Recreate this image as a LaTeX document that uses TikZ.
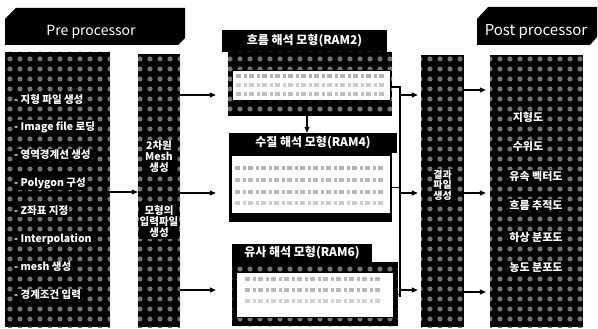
\documentclass[tikz,border=0pt]{standalone}
\usepackage{fontspec}
\setmainfont{Noto Sans CJK KR}
\usetikzlibrary{arrows.meta,patterns.meta}
\tikzdeclarepattern{
  name=speckle,
  type=uncolored,
  bounding box={(-5pt,-5pt) and (5pt,5pt)},
  tile size={(10pt,10pt)},
  code={\pgfpathcircle{\pgfpointorigin}{2.6pt}\pgfusepath{fill}}
}
\begin{document}
\begin{tikzpicture}[x=1pt,y=-1pt,
  darkbox/.style={draw=none, fill=black, postaction={pattern=speckle, pattern color=black!55}, inner sep=0pt},
  header/.style={fill=black, text=white, inner sep=0pt, font=\fontsize{12}{13}\selectfont\bfseries},
  panel/.style={fill=white, draw=black, line width=0.4pt, inner sep=0pt},
  lbl/.style={text=white, fill=black, inner sep=1pt, font=\fontsize{10.5}{11.5}\selectfont\bfseries, align=center},
  banner/.style={fill=black},
  bantext/.style={text=white, inner sep=0pt, font=\fontsize{14}{15}\selectfont},
  garble/.style={draw=gray!60, line width=3.5pt, dash pattern=on 5pt off 3pt on 3pt off 2pt},
  conn/.style={line width=1.2pt, -{Triangle[length=6pt,width=5pt]}},
  wire/.style={line width=1.2pt}]
\useasboundingbox (0,0) rectangle (598,329);
\fill[white] (0,0) rectangle (598,329);

% banners
\path[banner] (5,19) -- (16,8) -- (185,8) -- (185,38) -- (178,45) -- (5,45) -- cycle;
\node[bantext] (pretxt) at (91,32) {Pre processor};
\path[banner] (477,19) -- (488,7) -- (597,7) -- (597,37) -- (590,45) -- (477,45) -- cycle;
\node[bantext, font=\fontsize{15}{16}\selectfont] (posttxt) at (536,32) {Post processor};

% main columns
\node[darkbox, minimum width=105pt, minimum height=275pt] (left) at (57.5,189.5) {};
\node[darkbox, minimum width=42pt, minimum height=273pt] (mid) at (159,190.5) {};
\node[darkbox, minimum width=43pt, minimum height=272pt] (res) at (442.5,191) {};
\node[darkbox, minimum width=93pt, minimum height=272pt] (post) at (536.5,191) {};

% left items
\foreach \t/\y [count=\i] in {- 지형 파일 생성/100, - Image file 로딩/127, - 영역경계선 생성/155, - Polygon 구성/183, - Z좌표 지정/211, - Interpolation/239, - mesh 생성/267, - 경계조건 입력/295}
  \node[lbl, anchor=west] (li\i) at (13,\y) {\t};

% middle texts
\node[lbl, font=\fontsize{10.5}{11}\selectfont\bfseries] (m1) at (159,157) {2차원\\Mesh\\생성};
\node[lbl, font=\fontsize{10.5}{11}\selectfont\bfseries] (m2) at (159,222) {모형의\\입력파일\\생성};

% result text
\node[lbl, font=\fontsize{10}{10.5}\selectfont\bfseries] (r1) at (442.5,185) {결과\\파일\\생성};

% post texts
\foreach \t/\x/\y [count=\i] in {지형도/528/117, 수위도/528/146, 유속 벡터도/536/176, 흐름 추적도/536/205, 하상 분포도/536/237, 농도 분포도/536/267}
  \node[lbl, font=\fontsize{11}{12}\selectfont\bfseries] (po\i) at (\x,\y) {\t};

% RAM2
\node[header, minimum width=165pt, minimum height=22pt] (h2) at (304.5,41) {흐름 해석 모형(RAM2)};
\node[darkbox, minimum width=164pt, minimum height=64pt] (b2) at (310,84) {};
\node[panel, minimum width=158pt, minimum height=30pt] (p2) at (311,85) {};
\draw[garble] (236,76) -- (386,76);
\draw[garble, draw=gray!40] (236,85) -- (386,85);
\draw[garble, draw=gray!50] (236,94) -- (386,94);

% RAM4
\node[header, minimum width=168pt, minimum height=20pt] (h4) at (313,143) {수질 해석 모형(RAM4)};
\node[fill=black, inner sep=0pt, minimum width=163pt, minimum height=69pt] (b4) at (310.5,187.5) {};
\node[panel, minimum width=159pt, minimum height=58pt] (p4) at (310.5,184) {};
\draw[garble] (235,168) -- (386,168);
\draw[garble, draw=gray!55] (235,180) -- (386,180);
\draw[garble, draw=gray!55] (235,192) -- (386,192);
\draw[garble, draw=gray!40] (235,203) -- (386,203);

% RAM6
\node[header, minimum width=140pt, minimum height=18pt] (h6) at (302,253) {유사 해석 모형(RAM6)};
\node[darkbox, minimum width=166pt, minimum height=64pt] (b6) at (315,294) {};
\node[panel, minimum width=157pt, minimum height=45pt] (p6) at (314.5,294.5) {};
\draw[garble, draw=gray!55] (245,279) -- (380,279);
\draw[garble, draw=gray!55] (245,290) -- (380,290);
\draw[garble, draw=gray!35] (245,301) -- (380,301);

% connectors
\draw[conn] (left.east |- 0,192) -- (mid.west |- 0,192);
\draw[conn, shorten >=12pt] (mid.east |- 0,95) -- (b2.west |- 0,95);
\draw[conn, shorten >=13pt] (mid.east |- 0,193) -- (b4.west |- 0,193);
\draw[conn, shorten >=16pt] (mid.east |- 0,290) -- (b6.west |- 0,290);
\draw[conn] (b2.south -| 307,0) -- (h4.north -| 307,0);

\coordinate (bustop) at (400,87);
\coordinate (busbot) at (400,297);
\draw[wire] (p2.east |- bustop) -- (bustop) -- (busbot);
\draw[wire] (b4.east) -- (b4.east -| bustop);
\draw[wire] (p6.east) -- (p6.east -| bustop);
\draw[conn, shorten >=3pt] (bustop |- 0,95) -- (res.west |- 0,95);
\draw[conn, shorten >=3pt] (bustop |- 0,193) -- (res.west |- 0,193);
\draw[conn, shorten >=3pt] (bustop |- 0,290) -- (res.west |- 0,290);

\draw[conn, shorten >=4pt] (res.east |- 0,90) -- (post.west |- 0,90);
\draw[conn, shorten >=4pt] (res.east |- 0,193) -- (post.west |- 0,193);
\draw[conn, shorten >=4pt] (res.east |- 0,292) -- (post.west |- 0,292);
\end{tikzpicture}
\end{document}
